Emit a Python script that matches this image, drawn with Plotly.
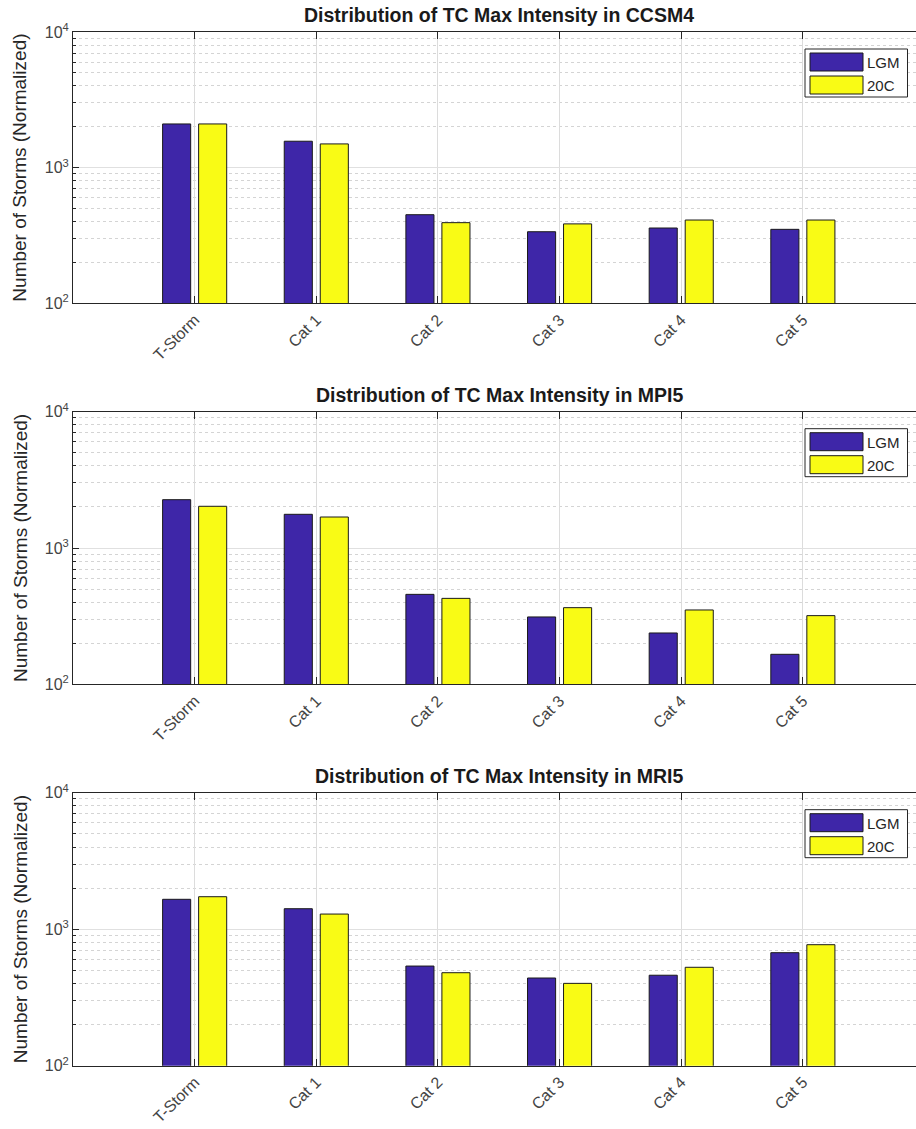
import plotly.graph_objects as go
from plotly.subplots import make_subplots

categories = ["T-Storm", "Cat 1", "Cat 2", "Cat 3", "Cat 4", "Cat 5"]
models = ["CCSM4", "MPI5", "MRI5"]
series_names = ["LGM", "20C"]

ccsm4_lgm = [2100, 1566, 450, 337, 359, 351]
ccsm4_20c = [2100, 1496, 393, 385, 411, 411]
mpi5_lgm = [2262, 1767, 457, 312, 238, 166]
mpi5_20c = [2023, 1688, 427, 365, 351, 319]
mri5_lgm = [1656, 1413, 537, 439, 460, 673]
mri5_20c = [1730, 1291, 480, 401, 526, 770]

y_tickvals = [100, 1000, 10000]
y_ticktext = ["10<sup>2</sup>", "10<sup>3</sup>", "10<sup>4</sup>"]

data = [(ccsm4_lgm, ccsm4_20c), (mpi5_lgm, mpi5_20c), (mri5_lgm, mri5_20c)]
colors = ["#3E26A8", "#F9FB15"]

W, H = 916, 1129
L = 73
fig = make_subplots(rows=3, cols=1)

# pixel domains (top, bottom)
pix = [(32, 303.3), (411.7, 684.3), (792.7, 1065.7)]
title_y = [15, 395, 776]

minor_vals = [m * 10 ** d for d in (2, 3) for m in range(2, 10)]
font_fam = "Liberation Sans, Arial, Helvetica, sans-serif"

for i, (lgm, c20) in enumerate(data):
    r = i + 1
    for name, vals, col in zip(series_names, (lgm, c20), colors):
        fig.add_trace(go.Bar(x=categories, y=vals, name=name,
                             marker=dict(color=col, line=dict(color="#1a1a1a", width=1)),
                             showlegend=False), row=r, col=1)
    top, bot = pix[i]
    xa = "xaxis" if r == 1 else f"xaxis{r}"
    ya = "yaxis" if r == 1 else f"yaxis{r}"
    fig.layout[ya].update(domain=[1 - bot / H, 1 - top / H])
    fig.layout[xa].update(domain=[0, 1])
    fig.update_xaxes(row=r, col=1, type="category", range=[-1, 5.93],
                     tickangle=-45, tickfont=dict(size=16, color="#444444", family=font_fam),
                     ticks="inside", ticklen=7, tickcolor="#262626",
                     showline=True, linecolor="#262626", linewidth=1, mirror="ticks",
                     showgrid=True, gridcolor="#DCDCDC", gridwidth=1, automargin=False)
    fig.update_yaxes(row=r, col=1, type="log", range=[2, 4],
                     tickmode="array", tickvals=y_tickvals, ticktext=y_ticktext,
                     tickfont=dict(size=16, color="#444444", family=font_fam),
                     ticks="inside", ticklen=6, tickcolor="#262626",
                     showline=True, linecolor="#262626", linewidth=1, mirror=False,
                     showgrid=True, gridcolor="#E0E0E0", gridwidth=1,
                     minor=dict(tickmode="array", tickvals=minor_vals, ticks="inside",
                                ticklen=3, tickcolor="#262626", showgrid=True,
                                gridcolor="#D4D4D4", griddash="dot", gridwidth=1),
                     zeroline=False, automargin=False)
    xref = "x domain" if r == 1 else f"x{r} domain"
    yref = "y domain" if r == 1 else f"y{r} domain"
    # title
    fig.add_annotation(text=f"<b>Distribution of TC Max Intensity in {models[i]}</b>",
                       xref="paper", yref="paper", x=(499 - L) / (W - L), y=1 - title_y[i] / H,
                       xanchor="center", yanchor="middle", showarrow=False,
                       font=dict(size=19.5, color="#1a1a1a", family=font_fam))
    # y label
    fig.add_annotation(text="Number of Storms (Normalized)", textangle=-90,
                       xref=xref, yref=yref, x=(20 - L) / (W - L), y=0.5,
                       xanchor="center", yanchor="middle", showarrow=False,
                       font=dict(size=19, color="#262626", family=font_fam))
    # legend (drawn)
    h = bot - top
    fy = lambda p: (bot - (top + p)) / h
    fx = lambda p: (p - L) / (W - L)
    fig.add_shape(type="rect", xref=xref, yref=yref, x0=fx(805), x1=fx(907.5),
                  y0=fy(65), y1=fy(17), fillcolor="white",
                  line=dict(color="#262626", width=1), layer="above")
    for k, (nm, col) in enumerate(zip(series_names, colors)):
        y0p = 21 + k * 23
        fig.add_shape(type="rect", xref=xref, yref=yref, x0=fx(810), x1=fx(863),
                      y0=fy(y0p + 18), y1=fy(y0p), fillcolor=col,
                      line=dict(color="#1a1a1a", width=1), layer="above")
        fig.add_annotation(text=nm, xref=xref, yref=yref, x=fx(865), y=fy(y0p + 9.5),
                           xanchor="left", yanchor="middle", showarrow=False,
                           font=dict(size=15, color="#262626", family=font_fam))

fig.update_layout(width=W, height=H, margin=dict(l=L, r=0, t=0, b=0, autoexpand=False),
                  plot_bgcolor="white", paper_bgcolor="white",
                  barmode="group", bargap=0.408, bargroupgap=0.22,
                  font=dict(family=font_fam))
post = (
    "document.body.style.margin='0';"
    "document.documentElement.style.overflow='hidden';"
    "var d=document.getElementsByClassName('plotly-graph-div')[0];"
    "d.style.position='fixed';d.style.top='0';d.style.left='0';"
)
fig.write_html("out.html", config={"displayModeBar": False}, post_script=post)
